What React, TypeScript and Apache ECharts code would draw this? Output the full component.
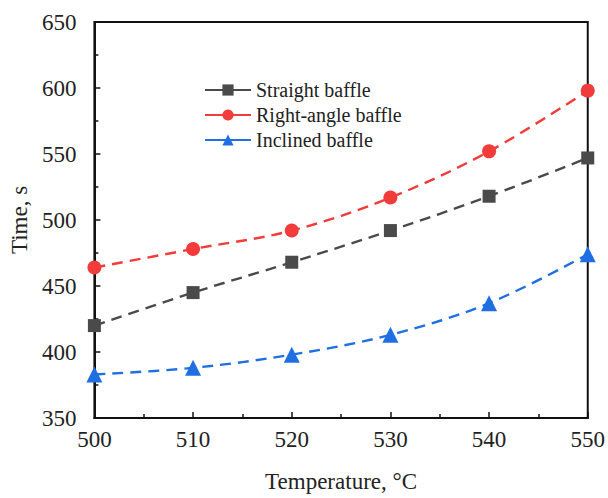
import React, { useEffect, useRef } from "react";
import * as echarts from "echarts";

const temperatures = [500, 510, 520, 530, 540, 550];
const straightBaffle = [420, 445, 468, 492, 518, 547];
const rightAngleBaffle = [464, 478, 492, 517, 552, 598];
const inclinedBaffle = [383, 388, 398, 413, 437, 474];

const seriesNames = ["Straight baffle", "Right-angle baffle", "Inclined baffle"];
const seriesColors = ["#4a4a4a", "#f23b3b", "#1f6fe3"];
const seriesSymbols = ["rect", "circle", "triangle"];

const FONT = "Liberation Serif";

export default function App() {
  const ref = useRef<HTMLDivElement>(null);
  useEffect(() => {
    if (!ref.current) return;
    const chart = echarts.init(ref.current, null, { renderer: "svg" });
    const datasets = [straightBaffle, rightAngleBaffle, inclinedBaffle];
    chart.setOption({
      animation: false,
      backgroundColor: "#ffffff",
      textStyle: { fontFamily: FONT },
      grid: {
        left: 91,
        right: 16,
        top: 22,
        bottom: 77,
        show: true,
        borderColor: "#111",
        borderWidth: 2,
      },
      legend: {
        orient: "vertical",
        left: 204,
        top: 80,
        itemWidth: 46,
        itemHeight: 14,
        itemGap: 5,
        padding: 0,
        data: seriesNames,
        textStyle: { fontFamily: FONT, fontSize: 20, lineHeight: 20, color: "#222" },
        lineStyle: { type: "solid" },
      },
      xAxis: {
        type: "value",
        min: 500,
        max: 550,
        interval: 10,
        axisLine: { show: true, lineStyle: { color: "#111", width: 2 } },
        axisTick: { show: true, inside: true, length: 6, lineStyle: { color: "#111", width: 1.5 } },
        minorTick: { show: true, splitNumber: 2, length: 4, lineStyle: { color: "#111", width: 1.5 } },
        splitLine: { show: false },
        axisLabel: { fontFamily: FONT, fontSize: 23, color: "#222", margin: 10 },
        name: "Temperature, \u00b0C",
        nameLocation: "middle",
        nameGap: 52,
        nameTextStyle: { fontFamily: FONT, fontSize: 23, color: "#222" },
      },
      yAxis: {
        type: "value",
        min: 350,
        max: 650,
        interval: 50,
        axisLine: { show: true, lineStyle: { color: "#111", width: 2 } },
        axisTick: { show: true, inside: true, length: 6, lineStyle: { color: "#111", width: 1.5 } },
        minorTick: { show: true, splitNumber: 2, length: 4, lineStyle: { color: "#111", width: 1.5 } },
        splitLine: { show: false },
        axisLabel: { fontFamily: FONT, fontSize: 23, color: "#222", margin: 18 },
        name: "Time, s",
        nameLocation: "middle",
        nameGap: 62,
        nameTextStyle: { fontFamily: FONT, fontSize: 23, color: "#222" },
      },
      series: datasets.map((d, i) => ({
        name: seriesNames[i],
        type: "line",
        data: temperatures.map((t, j) => [t, d[j]]),
        smooth: 0.35,
        symbol: seriesSymbols[i],
        symbolSize: seriesSymbols[i] === "triangle" ? 16 : seriesSymbols[i] === "rect" ? 13 : 14,
        color: seriesColors[i],
        itemStyle: { color: seriesColors[i] },
        lineStyle: { color: seriesColors[i], width: 2.4, type: [11, 7] },
        clip: true,
      })),
    });
    return () => chart.dispose();
  }, []);
  return (
    <div
      ref={ref}
      style={{ position: "fixed", left: 0, top: 0, width: 608, height: 498 }}
    />
  );
}
